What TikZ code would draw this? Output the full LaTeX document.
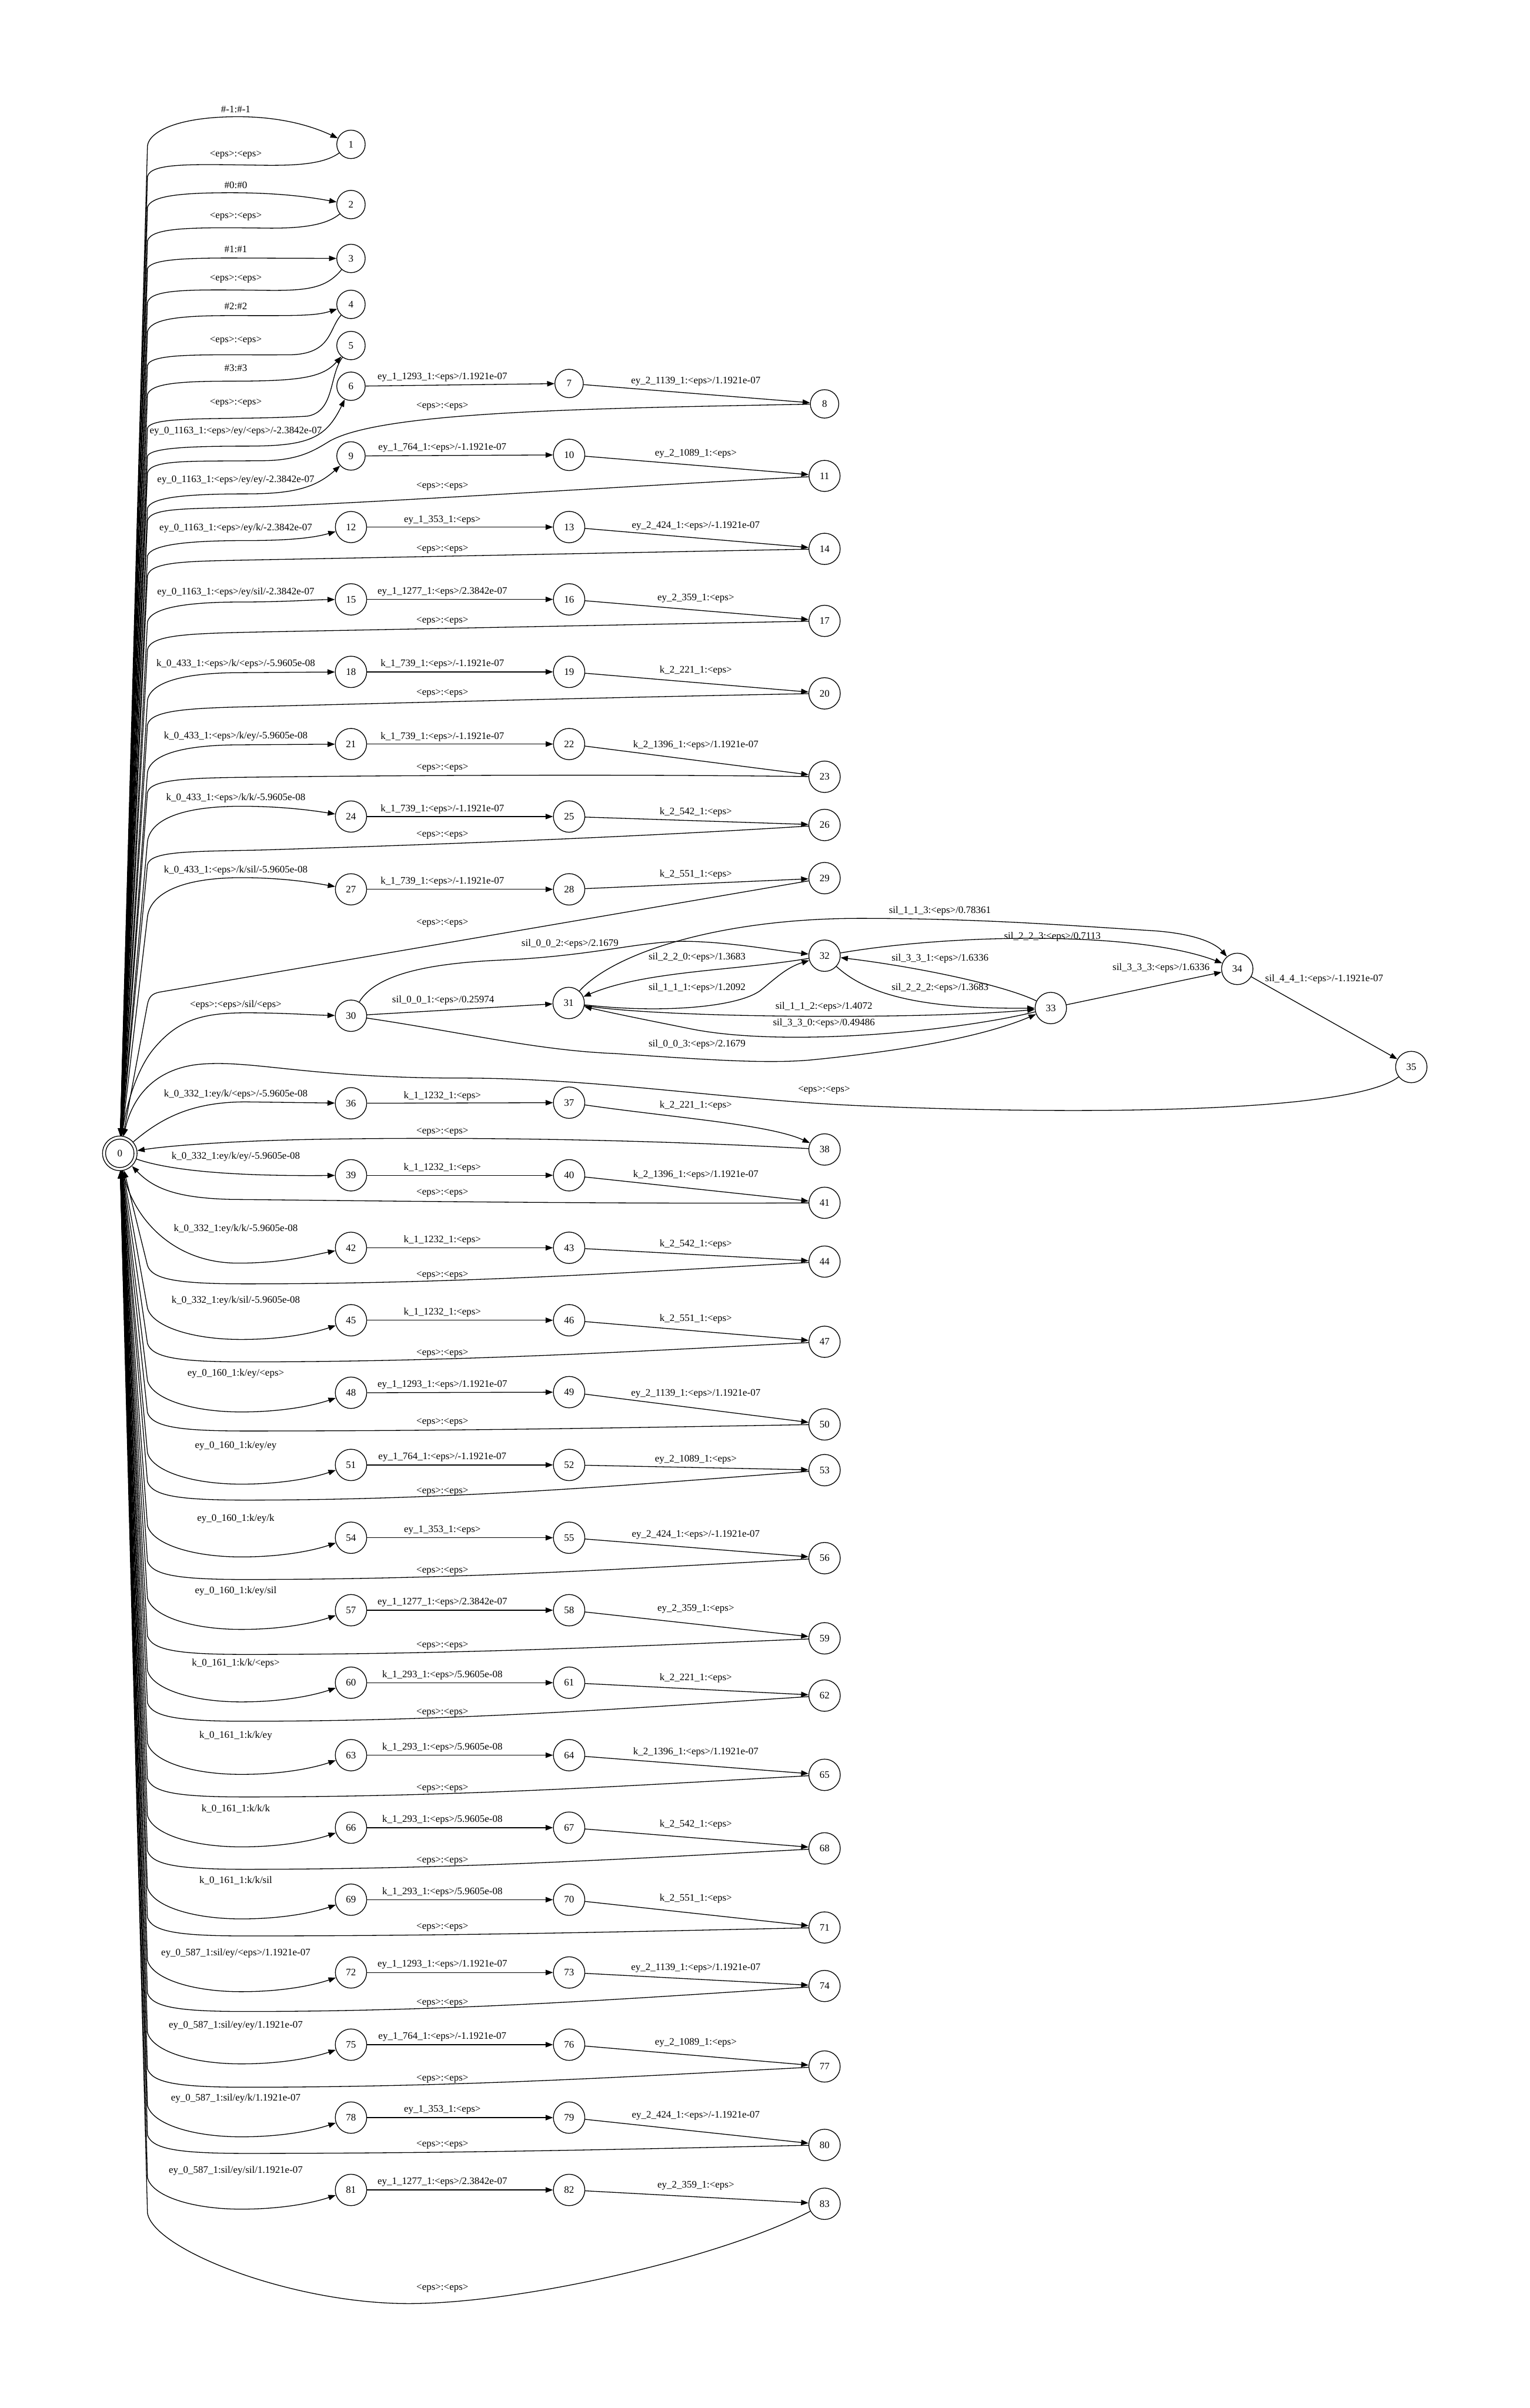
\documentclass[tikz,border=0pt]{standalone}
\usepackage{fontspec}
\setmainfont{Liberation Serif}
\usetikzlibrary{arrows.meta}
\newcommand\EPS{<eps>}
\newcommand\mylab[3]{\node[lbl] (#1) at (#2) {#3};}
\begin{document}
\begin{tikzpicture}[x=2pt,y=-2pt,
  st/.style={circle,draw,line width=1pt,minimum size=37pt,inner sep=9pt,font=\fontsize{13}{15}\selectfont},
  lbl/.style={font=\fontsize{13}{15}\selectfont,inner sep=0pt},
  e/.style={line width=1pt,-{Triangle[length=9.6pt,width=7pt]}}]
\fill[white] (0,0) rectangle (996,1568);
\useasboundingbox (0,0) rectangle (996,1568);
% ---------- nodes ----------
\node[st,minimum size=45pt] (n0) at (78,751) {0};
\draw[line width=1pt] (n0.center) circle[radius=18.5pt];
\foreach \n/\y in {1/94,2/133.2,3/168.3,4/198.2,5/225,6/251.5,9/296.9,12/343.2,15/390.3,18/437.5,21/484.5,24/531.7,27/579.1,30/661.4,36/718.4,39/765.3,42/812.5,45/859.7,48/906.9,51/953.9,54/1001.3,57/1048.5,60/1095.7,63/1142.9,66/1190.1,69/1237,72/1284.4,75/1331.4,78/1378.9,81/1426}
  \node[st] (n\n) at (228.5,\y) {\n};
\foreach \n/\y in {7/249.7,10/296.2,13/343.2,16/390.3,19/437.5,22/484.5,25/531.7,28/579.1,37/718,40/765.3,43/812.5,46/859.7,49/906.5,52/953.9,55/1001.3,58/1048.5,61/1095.7,64/1142.9,67/1190.1,70/1237,73/1284.4,76/1331.4,79/1378.9,82/1426}
  \node[st] (n\n) at (370.5,\y) {\n};
\foreach \n/\y in {8/263,11/309.9,14/357.4,17/404.3,20/451.5,23/505.8,26/537.2,29/571.8,38/748.5,41/783.2,44/821.5,47/873.7,50/927.5,53/957.3,56/1014.6,59/1066.8,62/1104.1,65/1155.7,68/1203.6,71/1255.1,74/1293.2,77/1345.6,80/1396.7,83/1435}
  \node[st] (n\n) at (536.8,\y) {\n};
\node[st] (n31) at (370.2,653.1) {31};
\node[st] (n32) at (536.8,622.3) {32};
\node[st] (n33) at (684.1,656.4) {33};
\node[st] (n34) at (805.5,630.9) {34};
\node[st] (n35) at (918.8,694.8) {35};
% ---------- straight row edges ----------
\foreach \a/\b in {6/7,9/10,12/13,15/16,18/19,21/22,24/25,27/28,36/37,39/40,42/43,45/46,48/49,51/52,54/55,57/58,60/61,63/64,66/67,69/70,72/73,75/76,78/79,81/82,7/8,10/11,13/14,16/17,19/20,22/23,25/26,28/29,40/41,43/44,46/47,49/50,52/53,55/56,58/59,61/62,64/65,67/68,70/71,73/74,76/77,79/80,82/83}
  \draw[e] (n\a) -- (n\b);
\draw[e] (n37) .. controls (440,728) and (500,732) .. (n38);
% ---------- upper out edges ----------
\draw[e] (n0) -- (96,95) .. controls (97,86) and (115,76) .. (155,76) .. controls (185,76) and (205,83) .. (n1);
\draw[e] (n0) -- (96,135) .. controls (98,128) and (115,125.5) .. (150,125.5) .. controls (185,125.5) and (205,129) .. (n2);
\draw[e] (n0) -- (96,175) .. controls (98,169.5) and (115,168) .. (150,168) -- (n3);
\draw[e] (n0) -- (96,216) .. controls (98,208) and (115,205.5) .. (150,205.5) .. controls (190,205.5) and (205,206) .. (n4);
\draw[e] (n0) -- (96,257) .. controls (98,250) and (115,248.2) .. (150,248.2) .. controls (195,248.2) and (210,246) .. (n5);
\draw[e] (n0) -- (96,297) .. controls (98,292) and (120,290.5) .. (160,290.5) .. controls (200,290.5) and (212,286) .. (n6);
\draw[e] (n0) -- (96,331) .. controls (98,324) and (120,321.6) .. (160,321.6) .. controls (190,321.6) and (205,318) .. (n9);
\draw[e] (n0) -- (96,362) .. controls (98,355) and (120,352) .. (160,352) .. controls (190,352) and (205,350) .. (n12);
\draw[e] (n0) -- (96,405) .. controls (98,396) and (120,392) .. (157,392) .. controls (185,392) and (205,390.5) .. (n15);
\draw[e] (n0) -- (96,456) .. controls (98,444) and (120,438) .. (157,438) -- (n18);
\draw[e] (n0) -- (96,503) .. controls (98,491) and (120,485) .. (157,485) -- (n21);
\draw[e] (n0) -- (96,548) .. controls (98,533) and (120,525) .. (157,525) .. controls (185,525) and (205,528) .. (n24);
\draw[e] (n0) -- (96,597) .. controls (98,581) and (120,571.5) .. (157,571.5) .. controls (185,571.5) and (205,575) .. (n27);
\draw[e] (n0) .. controls (82,718) and (90,695) .. (100,683) .. controls (115,665) and (130,659.5) .. (160,659.5) .. controls (185,659.5) and (205,661) .. (n30);
% ---------- upper return edges ----------
\draw[e] (n1) .. controls (210,107.5) and (190,108) .. (165,107.5) .. controls (125,107) and (98,106) .. (96,115) -- (n0);
\draw[e] (n2) .. controls (212,147) and (195,149) .. (170,148.5) .. controls (125,148) and (98,148) .. (96,157) -- (n0);
\draw[e] (n3) .. controls (212,188) and (200,189.5) .. (170,189) .. controls (125,188.5) and (98,188) .. (96,197) -- (n0);
\draw[e] (n4) .. controls (214,214) and (216,230) .. (190,231) .. controls (140,231.5) and (98,229) .. (96,238) -- (n0);
\draw[e] (n5) .. controls (214,245) and (218,268) .. (200,271) .. controls (150,274) and (98,270) .. (96,279) -- (n0);
\draw[e] (n8) .. controls (380,266) and (250,268) .. (215,287) .. controls (205,293) and (195,300) .. (170,300) .. controls (125,300.5) and (98,299) .. (96,308) -- (n0);
\draw[e] (n11) .. controls (400,317) and (250,327) .. (170,330) .. controls (125,331.5) and (98,330) .. (96,339) -- (n0);
\draw[e] (n14) .. controls (400,360) and (250,363) .. (170,364.5) .. controls (125,365.5) and (98,365) .. (96,375) -- (n0);
\draw[e] (n17) .. controls (400,407) and (250,410) .. (170,411.5) .. controls (125,412.5) and (98,413) .. (96,423) -- (n0);
\draw[e] (n20) .. controls (400,454) and (250,458) .. (170,460) .. controls (125,461) and (98,462) .. (96,472) -- (n0);
\draw[e] (n23) .. controls (400,504) and (250,505) .. (170,506) .. controls (125,506.5) and (98,507) .. (96,516) -- (n0);
\draw[e] (n26) .. controls (400,546) and (250,551) .. (170,553.5) .. controls (125,554.5) and (98,554) .. (96,563) -- (n0);
\draw[e] (n29) -- (104,646) .. controls (99,647) and (97,649) .. (96,654) -- (n0);
% ---------- sil cluster ----------
\draw[e] (n30) -- (n31);
\draw[e] (n30) .. controls (245,634) and (280,627) .. (330,625) .. controls (390,622) and (420,612) .. (450,613) .. controls (480,614) and (505,619) .. (n32);
\draw[e] (n30) .. controls (300,672) and (350,684) .. (400,686) .. controls (460,690) and (500,693) .. (530,690) .. controls (590,684) and (640,675) .. (n33);
\draw[e] (n31) .. controls (400,620) and (470,598) .. (560,598) .. controls (640,598) and (700,603) .. (750,606) .. controls (780,608) and (792,615) .. (n34);
\draw[e] (n32) .. controls (480,632) and (420,632) .. (n31);
\draw[e] (n31) .. controls (430,660) and (480,656) .. (495,645) .. controls (505,637) and (512,630) .. (n32);
\draw[e] (n31) .. controls (430,663) and (600,664) .. (n33);
\draw[e] (n33) .. controls (620,672) and (510,682) .. (450,670) .. controls (420,664) and (400,660) .. (n31);
\draw[e] (n32) .. controls (565,648) and (600,657) .. (n33);
\draw[e] (n33) .. controls (655,642) and (600,630) .. (n32);
\draw[e] (n32) .. controls (620,608) and (740,606) .. (n34);
\draw[e] (n33) -- (n34);
\draw[e] (n34) -- (n35);
\draw[e] (n35) .. controls (880,725) and (700,726) .. (560,720) .. controls (470,716) and (390,702) .. (300,702) .. controls (200,702) and (165,690) .. (130,693) .. controls (100,696) and (86,715) .. (n0);
% ---------- lower special ----------
\draw[e] (n0) .. controls (105,728) and (125,717.5) .. (160,717.5) -- (n36);
\draw[e] (n38) .. controls (420,742) and (300,740) .. (200,742) .. controls (150,743) and (110,746) .. (n0);
\draw[e] (n0) .. controls (110,762) and (150,766) .. (n39);
\draw[e] (n41) .. controls (400,784) and (250,782) .. (150,781) .. controls (115,780) and (100,774) .. (n0);
\draw[e] (n0) .. controls (85,790) and (110,822.5) .. (155,822.5) .. controls (185,822.5) and (205,817) .. (n42);
% ---------- lower out edges ----------
\foreach \n/\y in {45/859.7,48/906.9,51/953.9,54/1001.3,57/1048.5,60/1095.7,63/1142.9,66/1190.1,69/1237,72/1284.4,75/1331.4,78/1378.9,81/1426}
  \draw[e] (n0) -- (96,\y-8) .. controls (99,\y+4) and (125,\y+12.5) .. (157,\y+12.5) .. controls (185,\y+12.5) and (205,\y+8) .. (n\n);
% ---------- lower return edges ----------
\foreach \m/\ym/\r in {44/821.5/836,47/873.7/886.8,50/927.5/931.8,53/957.3/976.8,56/1014.6/1028.5,59/1066.8/1077.3,62/1104.1/1120.8,65/1155.7/1170.1,68/1203.6/1217.2,71/1255.1/1260.6,74/1293.2/1309.8,77/1345.6/1359.1,80/1396.7/1402.2}
  \draw[e] (n\m) .. controls (420,{\ym+0.45*(\r-\ym)}) and (300,\r) .. (160,\r) .. controls (115,\r) and (99,\r-3) .. (96,\r-12) -- (n0);
\draw[e] (n83) .. controls (470,1470) and (340,1500) .. (266,1500) .. controls (190,1500) and (100,1465) .. (96,1441) -- (n0);
% ---------- out labels ----------
\mylab{lo1}{153.5,71.1}{\#-1:\#-1}
\mylab{lo2}{153.5,120.4}{\#0:\#0}
\mylab{lo3}{153.5,162.5}{\#1:\#1}
\mylab{lo4}{153.5,199.6}{\#2:\#2}
\mylab{lo5}{153.5,239.8}{\#3:\#3}
\mylab{lo6}{153.5,280.8}{ey\_0\_1163\_1:\EPS/ey/\EPS/-2.3842e-07}
\mylab{lo9}{153.5,312.5}{ey\_0\_1163\_1:\EPS/ey/ey/-2.3842e-07}
\mylab{lo12}{153.5,344}{ey\_0\_1163\_1:\EPS/ey/k/-2.3842e-07}
\mylab{lo15}{153.5,385.5}{ey\_0\_1163\_1:\EPS/ey/sil/-2.3842e-07}
\mylab{lo18}{153.5,432.4}{k\_0\_433\_1:\EPS/k/\EPS/-5.9605e-08}
\mylab{lo21}{153.5,479.4}{k\_0\_433\_1:\EPS/k/ey/-5.9605e-08}
\mylab{lo24}{153.5,519.8}{k\_0\_433\_1:\EPS/k/k/-5.9605e-08}
\mylab{lo27}{153.5,566.8}{k\_0\_433\_1:\EPS/k/sil/-5.9605e-08}
\mylab{lo30}{153.5,654.5}{\EPS:\EPS/sil/\EPS}
\mylab{lo36}{153.5,712.6}{k\_0\_332\_1:ey/k/\EPS/-5.9605e-08}
\mylab{lo39}{153.5,753.3}{k\_0\_332\_1:ey/k/ey/-5.9605e-08}
\mylab{lo42}{153.5,800.2}{k\_0\_332\_1:ey/k/k/-5.9605e-08}
\mylab{lo45}{153.5,847}{k\_0\_332\_1:ey/k/sil/-5.9605e-08}
\mylab{lo48}{153.5,894.5}{ey\_0\_160\_1:k/ey/\EPS}
\mylab{lo51}{153.5,941.6}{ey\_0\_160\_1:k/ey/ey}
\mylab{lo54}{153.5,988.8}{ey\_0\_160\_1:k/ey/k}
\mylab{lo57}{153.5,1036}{ey\_0\_160\_1:k/ey/sil}
\mylab{lo60}{153.5,1083.2}{k\_0\_161\_1:k/k/\EPS}
\mylab{lo63}{153.5,1130.4}{k\_0\_161\_1:k/k/ey}
\mylab{lo66}{153.5,1177.6}{k\_0\_161\_1:k/k/k}
\mylab{lo69}{153.5,1224.5}{k\_0\_161\_1:k/k/sil}
\mylab{lo72}{153.5,1271.9}{ey\_0\_587\_1:sil/ey/\EPS/1.1921e-07}
\mylab{lo75}{153.5,1318.9}{ey\_0\_587\_1:sil/ey/ey/1.1921e-07}
\mylab{lo78}{153.5,1366.4}{ey\_0\_587\_1:sil/ey/k/1.1921e-07}
\mylab{lo81}{153.5,1413.5}{ey\_0\_587\_1:sil/ey/sil/1.1921e-07}
% ---------- return labels ----------
\foreach \n/\y in {1/100.9,2/141.2,3/181.5,4/221.8,5/262.3}
  \node[lbl] (lr\n) at (153.5,\y) {\EPS:\EPS};
\foreach \n/\y in {8/264.8,11/316.8,14/357.6,17/404.5,20/451.5,23/500.1,26/543.6,29/601,38/736.9,41/776.8,44/830.5,47/881.3,50/926.3,53/971.3,56/1023,59/1071.8,62/1115.3,65/1164.6,68/1211.7,71/1255.1,74/1304.3,77/1353.6,80/1396.7,83/1490}
  \node[lbl] (lr\n) at (288,\y) {\EPS:\EPS};
\mylab{lr35}{536.5,709.8}{\EPS:\EPS}
% ---------- middle labels ----------
\mylab{lm6}{288,245.8}{ey\_1\_1293\_1:\EPS/1.1921e-07}
\mylab{lm9}{288,291.6}{ey\_1\_764\_1:\EPS/-1.1921e-07}
\mylab{lm12}{288,338.6}{ey\_1\_353\_1:\EPS}
\mylab{lm15}{288,385.5}{ey\_1\_1277\_1:\EPS/2.3842e-07}
\mylab{lm18}{288,432.5}{k\_1\_739\_1:\EPS/-1.1921e-07}
\mylab{lm21}{288,479.9}{k\_1\_739\_1:\EPS/-1.1921e-07}
\mylab{lm24}{288,526.9}{k\_1\_739\_1:\EPS/-1.1921e-07}
\mylab{lm27}{288,574.1}{k\_1\_739\_1:\EPS/-1.1921e-07}
\mylab{lm36}{288,713.6}{k\_1\_1232\_1:\EPS}
\mylab{lm39}{288,760.3}{k\_1\_1232\_1:\EPS}
\mylab{lm42}{288,807.5}{k\_1\_1232\_1:\EPS}
\mylab{lm45}{288,854.7}{k\_1\_1232\_1:\EPS}
\mylab{lm48}{288,901.8}{ey\_1\_1293\_1:\EPS/1.1921e-07}
\mylab{lm51}{288,948.9}{ey\_1\_764\_1:\EPS/-1.1921e-07}
\mylab{lm54}{288,996.3}{ey\_1\_353\_1:\EPS}
\mylab{lm57}{288,1043.5}{ey\_1\_1277\_1:\EPS/2.3842e-07}
\mylab{lm60}{288,1090.7}{k\_1\_293\_1:\EPS/5.9605e-08}
\mylab{lm63}{288,1137.9}{k\_1\_293\_1:\EPS/5.9605e-08}
\mylab{lm66}{288,1185.1}{k\_1\_293\_1:\EPS/5.9605e-08}
\mylab{lm69}{288,1232}{k\_1\_293\_1:\EPS/5.9605e-08}
\mylab{lm72}{288,1279.4}{ey\_1\_1293\_1:\EPS/1.1921e-07}
\mylab{lm75}{288,1326.4}{ey\_1\_764\_1:\EPS/-1.1921e-07}
\mylab{lm78}{288,1373.9}{ey\_1\_353\_1:\EPS}
\mylab{lm81}{288,1421}{ey\_1\_1277\_1:\EPS/2.3842e-07}
% ---------- third labels ----------
\mylab{lt7}{453,248.5}{ey\_2\_1139\_1:\EPS/1.1921e-07}
\mylab{lt10}{453,295.3}{ey\_2\_1089\_1:\EPS}
\mylab{lt13}{453,342.5}{ey\_2\_424\_1:\EPS/-1.1921e-07}
\mylab{lt16}{453,389.7}{ey\_2\_359\_1:\EPS}
\mylab{lt19}{453,436.6}{k\_2\_221\_1:\EPS}
\mylab{lt22}{453,485.2}{k\_2\_1396\_1:\EPS/1.1921e-07}
\mylab{lt25}{453,528.7}{k\_2\_542\_1:\EPS}
\mylab{lt28}{453,569.5}{k\_2\_551\_1:\EPS}
\mylab{lt37}{453,719.7}{k\_2\_221\_1:\EPS}
\mylab{lt40}{453,764.9}{k\_2\_1396\_1:\EPS/1.1921e-07}
\mylab{lt43}{453,810.2}{k\_2\_542\_1:\EPS}
\mylab{lt46}{453,858.8}{k\_2\_551\_1:\EPS}
\mylab{lt49}{453,907.6}{ey\_2\_1139\_1:\EPS/1.1921e-07}
\mylab{lt52}{453,950.5}{ey\_2\_1089\_1:\EPS}
\mylab{lt55}{453,999.2}{ey\_2\_424\_1:\EPS/-1.1921e-07}
\mylab{lt58}{453,1047.8}{ey\_2\_359\_1:\EPS}
\mylab{lt61}{453,1092.7}{k\_2\_221\_1:\EPS}
\mylab{lt64}{453,1140.8}{k\_2\_1396\_1:\EPS/1.1921e-07}
\mylab{lt67}{453,1188.2}{k\_2\_542\_1:\EPS}
\mylab{lt70}{453,1236.3}{k\_2\_551\_1:\EPS}
\mylab{lt73}{453,1281.5}{ey\_2\_1139\_1:\EPS/1.1921e-07}
\mylab{lt76}{453,1330.3}{ey\_2\_1089\_1:\EPS}
\mylab{lt79}{453,1377.7}{ey\_2\_424\_1:\EPS/-1.1921e-07}
\mylab{lt82}{453,1423.1}{ey\_2\_359\_1:\EPS}
% ---------- sil labels ----------
\mylab{ls1}{288.5,651.2}{sil\_0\_0\_1:\EPS/0.25974}
\mylab{ls2}{371.1,614.5}{sil\_0\_0\_2:\EPS/2.1679}
\mylab{ls3}{453.8,679.9}{sil\_0\_0\_3:\EPS/2.1679}
\mylab{ls4}{611.9,593.2}{sil\_1\_1\_3:\EPS/0.78361}
\mylab{ls5}{453.8,623.5}{sil\_2\_2\_0:\EPS/1.3683}
\mylab{ls6}{453.8,643.3}{sil\_1\_1\_1:\EPS/1.2092}
\mylab{ls7}{536.4,655.5}{sil\_1\_1\_2:\EPS/1.4072}
\mylab{ls8}{536.4,666.4}{sil\_3\_3\_0:\EPS/0.49486}
\mylab{ls9}{612,643.3}{sil\_2\_2\_2:\EPS/1.3683}
\mylab{ls10}{612,624}{sil\_3\_3\_1:\EPS/1.6336}
\mylab{ls11}{685.1,610}{sil\_2\_2\_3:\EPS/0.7113}
\mylab{ls12}{755.9,630.3}{sil\_3\_3\_3:\EPS/1.6336}
\mylab{ls13}{862.1,637.5}{sil\_4\_4\_1:\EPS/-1.1921e-07}
\end{tikzpicture}
\end{document}
